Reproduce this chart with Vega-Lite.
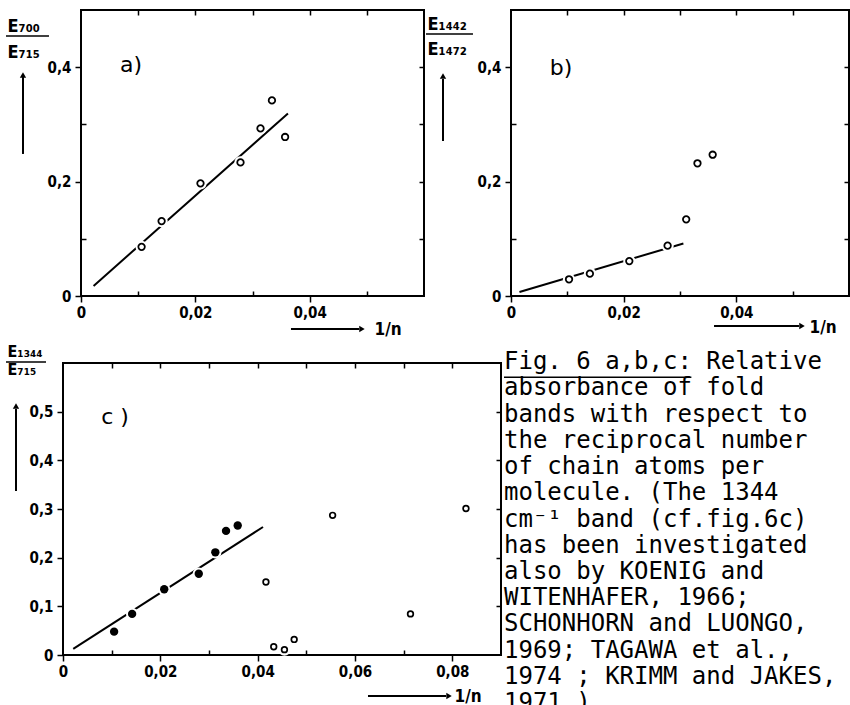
{
  "$schema": "https://vega.github.io/schema/vega-lite/v6.json",
  "background": "white",
  "padding": {"left": 4, "top": 8, "right": 0, "bottom": 0},
  "datasets": {
    "a_pts": [
      {"x": 0.0106, "y": 0.0859}, {"x": 0.0141, "y": 0.131}, {"x": 0.0209, "y": 0.197},
      {"x": 0.0279, "y": 0.2335}, {"x": 0.0314, "y": 0.293}, {"x": 0.0334, "y": 0.342},
      {"x": 0.0357, "y": 0.278}
    ],
    "a_fit": [{"x": 0.0022, "y": 0.0176}, {"x": 0.0362, "y": 0.319}],
    "b_pts": [
      {"x": 0.0103, "y": 0.0292}, {"x": 0.014, "y": 0.039}, {"x": 0.021, "y": 0.061},
      {"x": 0.0278, "y": 0.088}, {"x": 0.0311, "y": 0.134}, {"x": 0.0331, "y": 0.232},
      {"x": 0.0358, "y": 0.247}
    ],
    "b_fit": [{"x": 0.0015, "y": 0.007}, {"x": 0.0306, "y": 0.0918}],
    "c_pts": [
      {"x": 0.0105, "y": 0.048, "kind": "filled"}, {"x": 0.0142, "y": 0.0845, "kind": "filled"},
      {"x": 0.0208, "y": 0.135, "kind": "filled"}, {"x": 0.0279, "y": 0.167, "kind": "filled"},
      {"x": 0.0313, "y": 0.211, "kind": "filled"}, {"x": 0.0335, "y": 0.255, "kind": "filled"},
      {"x": 0.0359, "y": 0.266, "kind": "filled"},
      {"x": 0.0417, "y": 0.15, "kind": "open"}, {"x": 0.0433, "y": 0.017, "kind": "open"},
      {"x": 0.0455, "y": 0.011, "kind": "open"}, {"x": 0.0475, "y": 0.032, "kind": "open"},
      {"x": 0.0554, "y": 0.287, "kind": "open"}, {"x": 0.0714, "y": 0.0845, "kind": "open"},
      {"x": 0.0828, "y": 0.301, "kind": "open"}
    ],
    "c_fit": [{"x": 0.0021, "y": 0.0124}, {"x": 0.0411, "y": 0.263}],
    "caption": [
      {"line": 1, "text": "Fig. 6 a,b,c: Relative"},
      {"line": 2, "text": "absorbance of fold"},
      {"line": 3, "text": "bands with respect to"},
      {"line": 4, "text": "the reciprocal number"},
      {"line": 5, "text": "of chain atoms per"},
      {"line": 6, "text": "molecule. (The 1344"},
      {"line": 7, "text": "cm⁻¹ band (cf.fig.6c)"},
      {"line": 8, "text": "has been investigated"},
      {"line": 9, "text": "also by  KOENIG and"},
      {"line": 10, "text": "WITENHAFER, 1966;"},
      {"line": 11, "text": "SCHONHORN and LUONGO,"},
      {"line": 12, "text": "1969; TAGAWA et al.,"},
      {"line": 13, "text": "1974 ; KRIMM and JAKES,"},
      {"line": 14, "text": "1971.)"}
    ]
  },
  "config": {
    "view": {"stroke": "black", "strokeWidth": 2},
    "axis": {
      "grid": false, "domain": false, "tickColor": "black", "tickWidth": 1.5,
      "labelColor": "black", "labelFont": "DejaVu Sans Condensed, DejaVu Sans", "labelFontWeight": "bold",
      "labelFontSize": 15, "labelFlush": false, "labelOverlap": false,
      "titleColor": "black", "titleFont": "DejaVu Sans Condensed, DejaVu Sans", "titleFontWeight": "bold",
      "minExtent": 0
    }
  },
  "spacing": 4,
  "vconcat": [
    {
      "bounds": "flush",
      "spacing": 0,
      "hconcat": [
        {
          "width": 18, "height": 20,
          "view": {"stroke": null},
          "data": {"values": [{}]},
          "mark": {"type": "point", "opacity": 0},
          "encoding": {}
        },
        {
          "width": 343, "height": 286,
          "data": {"values": [{}]},
          "resolve": {"axis": {"x": "independent", "y": "independent"}},
          "layer": [
            {
              "data": {"name": "a_fit"},
              "mark": {"type": "line", "color": "black", "strokeWidth": 2},
              "encoding": {
                "x": {"field": "x", "type": "quantitative", "scale": {"domain": [0, 0.06]},
                  "axis": {"orient": "bottom", "values": [0, 0.02, 0.04], "tickSize": 6, "labelPadding": 3,
                    "labelExpr": "datum.value == 0 ? '0' : replace(format(datum.value, '.2f'), '.', ',')",
                    "title": "1/n", "titleX": 293, "titleY": 38, "titleAlign": "left", "titleBaseline": "alphabetic", "titleAngle": 0, "titleFontSize": 17}},
                "y": {"field": "y", "type": "quantitative", "scale": {"domain": [0, 0.5]},
                  "axis": {"orient": "left", "values": [0, 0.2, 0.4], "tickSize": 6, "labelPadding": 4,
                    "labelExpr": "datum.value == 0 ? '0' : replace(format(datum.value, '.1f'), '.', ',')",
                    "title": ["E₇₀₀", "E₇₁₅"], "titleX": -74, "titleY": 21, "titleAlign": "left", "titleBaseline": "alphabetic", "titleAngle": 0, "titleFontSize": 18, "titleLineHeight": 26}}
              }
            },
            {
              "data": {"name": "a_pts"},
              "mark": {"type": "point", "shape": "circle", "filled": true, "color": "white", "opacity": 1, "size": 150},
              "encoding": {
                "x": {"field": "x", "type": "quantitative", "scale": {"domain": [0, 0.06]},
                  "axis": {"orient": "bottom", "values": [0.01, 0.03, 0.05], "tickSize": -5, "labels": false, "title": null}},
                "y": {"field": "y", "type": "quantitative", "scale": {"domain": [0, 0.5]},
                  "axis": {"orient": "left", "values": [0.1, 0.3], "tickSize": -5, "labels": false, "title": null}}
              }
            },
            {
              "data": {"name": "a_pts"},
              "mark": {"type": "point", "shape": "circle", "filled": false, "color": "black", "strokeWidth": 1.8, "opacity": 1, "size": 42},
              "encoding": {
                "x": {"field": "x", "type": "quantitative", "scale": {"domain": [0, 0.06]},
                  "axis": {"orient": "top", "values": [0.01, 0.02, 0.03, 0.04, 0.05], "tickSize": -5, "labels": false, "title": null}},
                "y": {"field": "y", "type": "quantitative", "scale": {"domain": [0, 0.5]},
                  "axis": {"orient": "right", "values": [0.1, 0.2, 0.3, 0.4], "tickSize": -5, "labels": false, "title": null}}
              }
            },
            {
              "mark": {"type": "text", "text": "a)", "font": "DejaVu Sans", "fontSize": 22, "align": "center", "baseline": "middle", "color": "black"},
              "encoding": {
                "x": {"datum": 0.00875, "type": "quantitative", "scale": {"domain": [0, 0.06]}, "axis": null},
                "y": {"datum": 0.404, "type": "quantitative", "scale": {"domain": [0, 0.5]}, "axis": null}
              }
            },
            {
              "mark": {"type": "rule", "color": "black", "strokeWidth": 2},
              "encoding": {
                "x": {"datum": -0.01015, "type": "quantitative", "scale": {"domain": [0, 0.06]}, "axis": null},
                "y": {"datum": 0.2483, "type": "quantitative", "scale": {"domain": [0, 0.5]}, "axis": null},
                "y2": {"datum": 0.3829}
              }
            },
            {
              "mark": {"type": "point", "shape": "triangle-up", "filled": true, "color": "black", "opacity": 1, "size": 40},
              "encoding": {
                "x": {"datum": -0.01015, "type": "quantitative", "scale": {"domain": [0, 0.06]}, "axis": null},
                "y": {"datum": 0.3864, "type": "quantitative", "scale": {"domain": [0, 0.5]}, "axis": null}
              }
            },
            {
              "mark": {"type": "rule", "color": "black", "strokeWidth": 1.6},
              "encoding": {
                "x": {"datum": -0.01312, "type": "quantitative", "scale": {"domain": [0, 0.06]}, "axis": null},
                "x2": {"datum": -0.0056},
                "y": {"datum": 0.4545, "type": "quantitative", "scale": {"domain": [0, 0.5]}, "axis": null}
              }
            },
            {
              "mark": {"type": "rule", "color": "black", "strokeWidth": 1.8},
              "encoding": {
                "x": {"datum": 0.03673, "type": "quantitative", "scale": {"domain": [0, 0.06]}, "axis": null},
                "x2": {"datum": 0.04863},
                "y": {"datum": -0.0577, "type": "quantitative", "scale": {"domain": [0, 0.5]}, "axis": null}
              }
            },
            {
              "mark": {"type": "point", "shape": "triangle-right", "filled": true, "color": "black", "opacity": 1, "size": 40},
              "encoding": {
                "x": {"datum": 0.04915, "type": "quantitative", "scale": {"domain": [0, 0.06]}, "axis": null},
                "y": {"datum": -0.0577, "type": "quantitative", "scale": {"domain": [0, 0.5]}, "axis": null}
              }
            }
          ]
        },
        {
          "width": 87, "height": 20,
          "view": {"stroke": null},
          "data": {"values": [{}]},
          "mark": {"type": "point", "opacity": 0},
          "encoding": {}
        },
        {
          "width": 338, "height": 286,
          "data": {"values": [{}]},
          "resolve": {"axis": {"x": "independent", "y": "independent"}},
          "layer": [
            {
              "data": {"name": "b_fit"},
              "mark": {"type": "line", "color": "black", "strokeWidth": 2},
              "encoding": {
                "x": {"field": "x", "type": "quantitative", "scale": {"domain": [0, 0.06]},
                  "axis": {"orient": "bottom", "values": [0, 0.02, 0.04], "tickSize": 6, "labelPadding": 3,
                    "labelExpr": "datum.value == 0 ? '0' : replace(format(datum.value, '.2f'), '.', ',')",
                    "title": "1/n", "titleX": 298, "titleY": 36, "titleAlign": "left", "titleBaseline": "alphabetic", "titleAngle": 0, "titleFontSize": 17}},
                "y": {"field": "y", "type": "quantitative", "scale": {"domain": [0, 0.5]},
                  "axis": {"orient": "left", "values": [0, 0.2, 0.4], "tickSize": 6, "labelPadding": 4,
                    "labelExpr": "datum.value == 0 ? '0' : replace(format(datum.value, '.1f'), '.', ',')",
                    "title": ["E₁₄₄₂", "E₁₄₇₂"], "titleX": -84, "titleY": 19, "titleAlign": "left", "titleBaseline": "alphabetic", "titleAngle": 0, "titleFontSize": 18, "titleLineHeight": 25}}
              }
            },
            {
              "data": {"name": "b_pts"},
              "mark": {"type": "point", "shape": "circle", "filled": true, "color": "white", "opacity": 1, "size": 150},
              "encoding": {
                "x": {"field": "x", "type": "quantitative", "scale": {"domain": [0, 0.06]},
                  "axis": {"orient": "bottom", "values": [0.01, 0.03, 0.05], "tickSize": -5, "labels": false, "title": null}},
                "y": {"field": "y", "type": "quantitative", "scale": {"domain": [0, 0.5]},
                  "axis": {"orient": "left", "values": [0.1, 0.3], "tickSize": -5, "labels": false, "title": null}}
              }
            },
            {
              "data": {"name": "b_pts"},
              "mark": {"type": "point", "shape": "circle", "filled": false, "color": "black", "strokeWidth": 1.8, "opacity": 1, "size": 42},
              "encoding": {
                "x": {"field": "x", "type": "quantitative", "scale": {"domain": [0, 0.06]},
                  "axis": {"orient": "top", "values": [0.01, 0.02, 0.03, 0.04, 0.05], "tickSize": -5, "labels": false, "title": null}},
                "y": {"field": "y", "type": "quantitative", "scale": {"domain": [0, 0.5]},
                  "axis": {"orient": "right", "values": [0.1, 0.2, 0.3, 0.4], "tickSize": -5, "labels": false, "title": null}}
              }
            },
            {
              "mark": {"type": "text", "text": "b)", "font": "DejaVu Sans", "fontSize": 22, "align": "center", "baseline": "middle", "color": "black"},
              "encoding": {
                "x": {"datum": 0.00888, "type": "quantitative", "scale": {"domain": [0, 0.06]}, "axis": null},
                "y": {"datum": 0.3986, "type": "quantitative", "scale": {"domain": [0, 0.5]}, "axis": null}
              }
            },
            {
              "mark": {"type": "rule", "color": "black", "strokeWidth": 2},
              "encoding": {
                "x": {"datum": -0.01207, "type": "quantitative", "scale": {"domain": [0, 0.06]}, "axis": null},
                "y": {"datum": 0.271, "type": "quantitative", "scale": {"domain": [0, 0.5]}, "axis": null},
                "y2": {"datum": 0.3794}
              }
            },
            {
              "mark": {"type": "point", "shape": "triangle-up", "filled": true, "color": "black", "opacity": 1, "size": 40},
              "encoding": {
                "x": {"datum": -0.01207, "type": "quantitative", "scale": {"domain": [0, 0.06]}, "axis": null},
                "y": {"datum": 0.3846, "type": "quantitative", "scale": {"domain": [0, 0.5]}, "axis": null}
              }
            },
            {
              "mark": {"type": "rule", "color": "black", "strokeWidth": 1.6},
              "encoding": {
                "x": {"datum": -0.01509, "type": "quantitative", "scale": {"domain": [0, 0.06]}, "axis": null},
                "x2": {"datum": -0.00675},
                "y": {"datum": 0.458, "type": "quantitative", "scale": {"domain": [0, 0.5]}, "axis": null}
              }
            },
            {
              "mark": {"type": "rule", "color": "black", "strokeWidth": 1.8},
              "encoding": {
                "x": {"datum": 0.03604, "type": "quantitative", "scale": {"domain": [0, 0.06]}, "axis": null},
                "x2": {"datum": 0.05112},
                "y": {"datum": -0.05245, "type": "quantitative", "scale": {"domain": [0, 0.5]}, "axis": null}
              }
            },
            {
              "mark": {"type": "point", "shape": "triangle-right", "filled": true, "color": "black", "opacity": 1, "size": 40},
              "encoding": {
                "x": {"datum": 0.05166, "type": "quantitative", "scale": {"domain": [0, 0.06]}, "axis": null},
                "y": {"datum": -0.05245, "type": "quantitative", "scale": {"domain": [0, 0.5]}, "axis": null}
              }
            }
          ]
        }
      ]
    },
    {
      "spacing": 0,
      "hconcat": [
        {
          "width": 438, "height": 292,
          "data": {"values": [{}]},
          "resolve": {"axis": {"x": "independent", "y": "independent"}},
          "layer": [
            {
              "data": {"name": "c_fit"},
              "mark": {"type": "line", "color": "black", "strokeWidth": 2},
              "encoding": {
                "x": {"field": "x", "type": "quantitative", "scale": {"domain": [0, 0.09]},
                  "axis": {"orient": "bottom", "values": [0, 0.02, 0.04, 0.06, 0.08], "tickSize": 6, "labelPadding": 3,
                    "labelExpr": "datum.value == 0 ? '0' : replace(format(datum.value, '.2f'), '.', ',')",
                    "title": "1/n", "titleX": 391, "titleY": 46, "titleAlign": "left", "titleBaseline": "alphabetic", "titleAngle": 0, "titleFontSize": 17}},
                "y": {"field": "y", "type": "quantitative", "scale": {"domain": [0, 0.6]},
                  "axis": {"orient": "left", "values": [0, 0.1, 0.2, 0.3, 0.4, 0.5], "tickSize": 6, "labelPadding": 4,
                    "labelExpr": "datum.value == 0 ? '0' : replace(format(datum.value, '.1f'), '.', ',')",
                    "title": ["E₁₃₄₄", "E₇₁₅"], "titleX": -56, "titleY": -7, "titleAlign": "left", "titleBaseline": "alphabetic", "titleAngle": 0, "titleFontSize": 16, "titleLineHeight": 18}}
              }
            },
            {
              "data": {"name": "c_pts"},
              "mark": {"type": "point", "shape": "circle", "filled": true, "color": "white", "opacity": 1, "size": 150},
              "encoding": {
                "x": {"field": "x", "type": "quantitative", "scale": {"domain": [0, 0.09]},
                  "axis": {"orient": "bottom", "values": [0.01, 0.03, 0.05, 0.07], "tickSize": -5, "labels": false, "title": null}},
                "y": {"field": "y", "type": "quantitative", "scale": {"domain": [0, 0.6]}, "axis": null}
              }
            },
            {
              "data": {"name": "c_pts"},
              "transform": [{"filter": "datum.kind == 'filled'"}],
              "mark": {"type": "point", "shape": "circle", "filled": true, "color": "black", "opacity": 1, "size": 70},
              "encoding": {
                "x": {"field": "x", "type": "quantitative", "scale": {"domain": [0, 0.09]},
                  "axis": {"orient": "top", "values": [0.01, 0.02, 0.03, 0.04, 0.05, 0.06, 0.07, 0.08], "tickSize": -5, "labels": false, "title": null}},
                "y": {"field": "y", "type": "quantitative", "scale": {"domain": [0, 0.6]},
                  "axis": {"orient": "right", "values": [0.1, 0.2, 0.3, 0.4, 0.5], "tickSize": -5, "labels": false, "title": null}}
              }
            },
            {
              "data": {"name": "c_pts"},
              "transform": [{"filter": "datum.kind == 'open'"}],
              "mark": {"type": "point", "shape": "circle", "filled": false, "color": "black", "strokeWidth": 1.7, "opacity": 1, "size": 32},
              "encoding": {
                "x": {"field": "x", "type": "quantitative", "scale": {"domain": [0, 0.09]}, "axis": null},
                "y": {"field": "y", "type": "quantitative", "scale": {"domain": [0, 0.6]}, "axis": null}
              }
            },
            {
              "mark": {"type": "text", "text": "c )", "font": "DejaVu Sans", "fontSize": 22, "align": "center", "baseline": "middle", "color": "black"},
              "encoding": {
                "x": {"datum": 0.01068, "type": "quantitative", "scale": {"domain": [0, 0.09]}, "axis": null},
                "y": {"datum": 0.489, "type": "quantitative", "scale": {"domain": [0, 0.6]}, "axis": null}
              }
            },
            {
              "mark": {"type": "rule", "color": "black", "strokeWidth": 2},
              "encoding": {
                "x": {"datum": -0.009658, "type": "quantitative", "scale": {"domain": [0, 0.09]}, "axis": null},
                "y": {"datum": 0.337, "type": "quantitative", "scale": {"domain": [0, 0.6]}, "axis": null},
                "y2": {"datum": 0.5055}
              }
            },
            {
              "mark": {"type": "point", "shape": "triangle-up", "filled": true, "color": "black", "opacity": 1, "size": 40},
              "encoding": {
                "x": {"datum": -0.009658, "type": "quantitative", "scale": {"domain": [0, 0.09]}, "axis": null},
                "y": {"datum": 0.5116, "type": "quantitative", "scale": {"domain": [0, 0.6]}, "axis": null}
              }
            },
            {
              "mark": {"type": "rule", "color": "black", "strokeWidth": 1.6},
              "encoding": {
                "x": {"datum": -0.01171, "type": "quantitative", "scale": {"domain": [0, 0.09]}, "axis": null},
                "x2": {"datum": -0.003493},
                "y": {"datum": 0.6021, "type": "quantitative", "scale": {"domain": [0, 0.6]}, "axis": null}
              }
            },
            {
              "mark": {"type": "rule", "color": "black", "strokeWidth": 1.8},
              "encoding": {
                "x": {"datum": 0.06267, "type": "quantitative", "scale": {"domain": [0, 0.09]}, "axis": null},
                "x2": {"datum": 0.0787},
                "y": {"datum": -0.08425, "type": "quantitative", "scale": {"domain": [0, 0.6]}, "axis": null}
              }
            },
            {
              "mark": {"type": "point", "shape": "triangle-right", "filled": true, "color": "black", "opacity": 1, "size": 40},
              "encoding": {
                "x": {"datum": 0.07932, "type": "quantitative", "scale": {"domain": [0, 0.09]}, "axis": null},
                "y": {"datum": -0.08425, "type": "quantitative", "scale": {"domain": [0, 0.6]}, "axis": null}
              }
            }
          ]
        },
        {
          "width": 347, "height": 347,
          "view": {"stroke": null},
          "layer": [
            {
              "data": {"name": "caption"},
              "mark": {"type": "text", "align": "left", "baseline": "alphabetic", "font": "DejaVu Sans Mono", "fontSize": 24, "color": "black"},
              "encoding": {
                "x": {"datum": 0, "type": "quantitative", "scale": {"domain": [0, 25]}, "axis": null},
                "y": {"field": "line", "type": "quantitative", "scale": {"domain": [0.76, 14], "reverse": true}, "axis": null},
                "text": {"field": "text"}
              }
            },
            {
              "data": {"values": [{}]},
              "mark": {"type": "rule", "color": "black", "strokeWidth": 1.5},
              "encoding": {
                "x": {"datum": 0, "type": "quantitative", "scale": {"domain": [0, 25]}, "axis": null},
                "x2": {"datum": 13.5},
                "y": {"datum": 1.3, "type": "quantitative", "scale": {"domain": [0.76, 14], "reverse": true}, "axis": null}
              }
            }
          ]
        }
      ]
    }
  ]
}
